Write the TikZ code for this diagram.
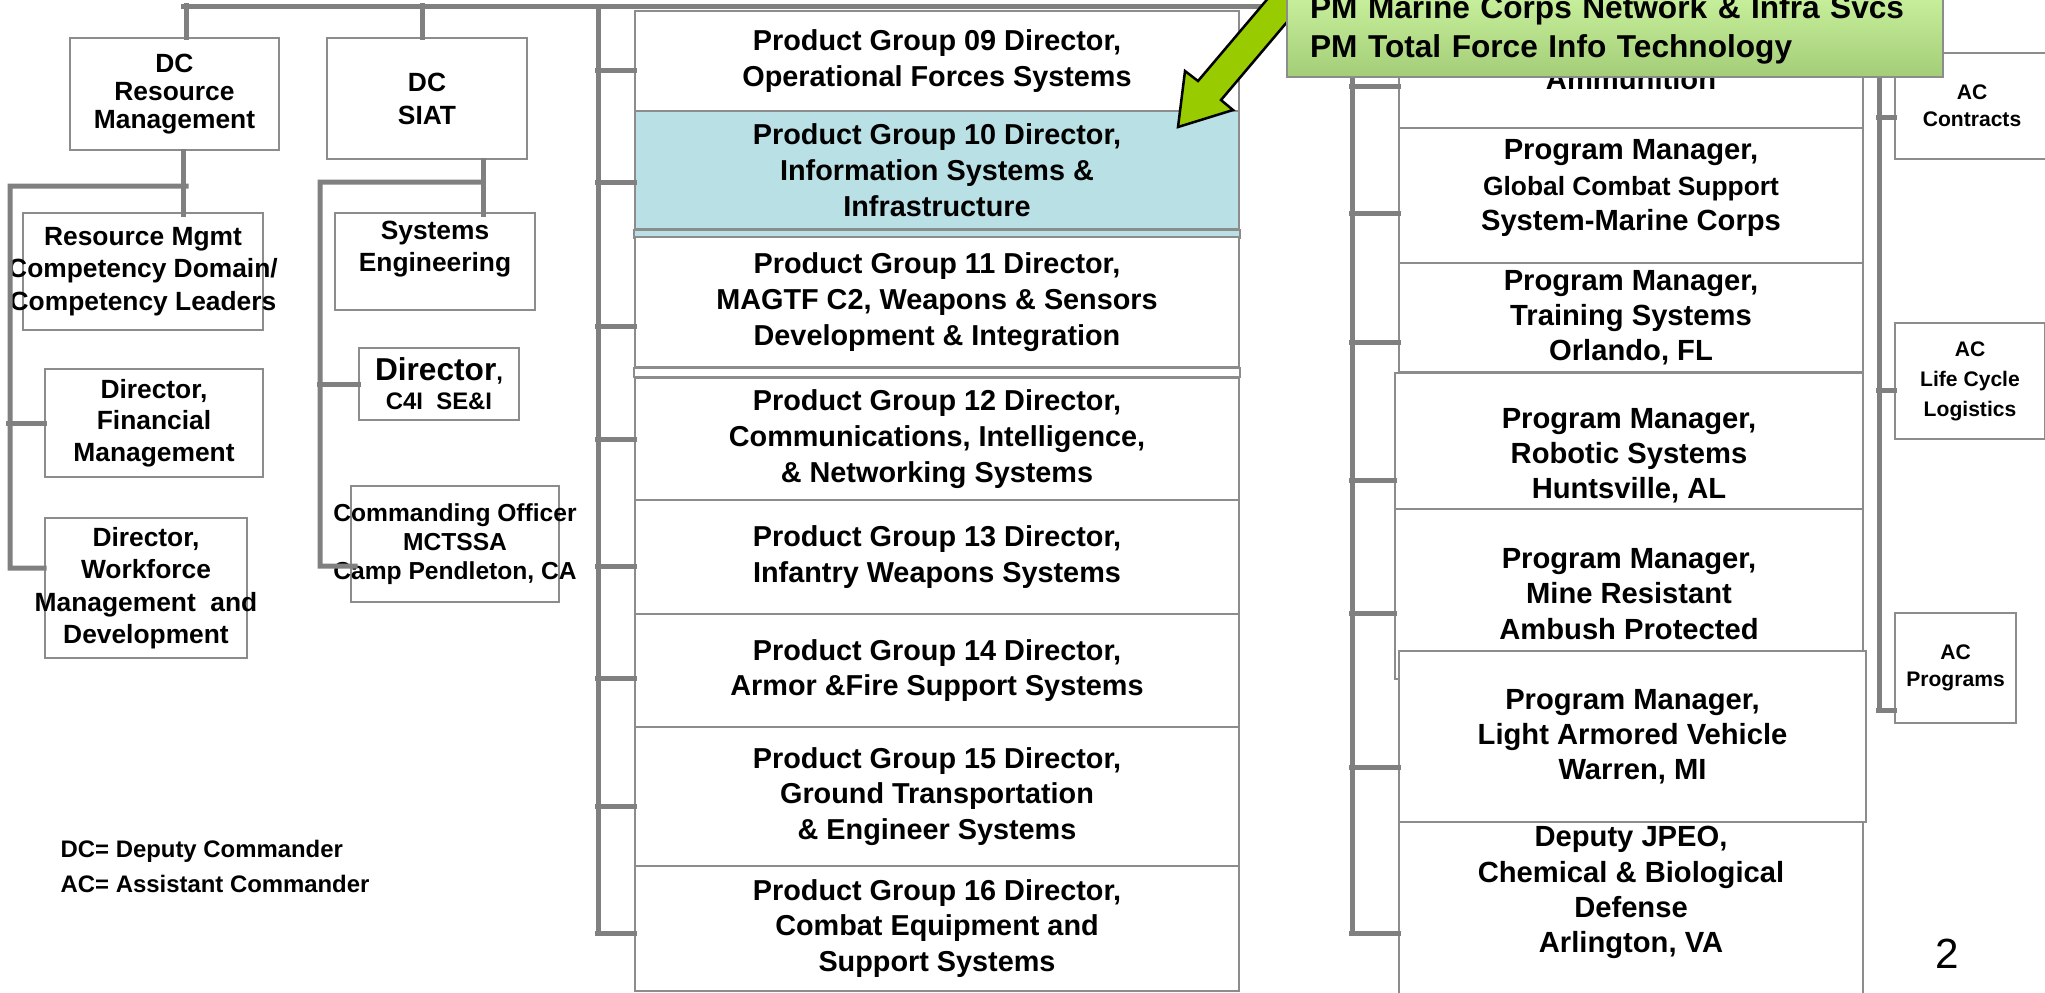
\documentclass[tikz,border=0pt]{standalone}
\usepackage{fontspec}
\setmainfont{Liberation Sans}
\definecolor{linegray}{RGB}{128,128,128}
\definecolor{boxgray}{RGB}{140,140,140}
\definecolor{pgblue}{RGB}{185,224,228}
\definecolor{calltop}{RGB}{206,246,162}
\definecolor{callbot}{RGB}{164,205,120}
\definecolor{arrowgreen}{RGB}{153,204,0}
\begin{document}
\begin{tikzpicture}[x=1mm,y=-1mm,
    conn/.style={draw=linegray,line width=0.5mm,line cap=rect},
    box/.style={draw=boxgray,line width=0.2mm,fill=white,inner sep=0pt,align=center},
    lbox/.style={box,font=\bfseries\fontsize{7.5}{9.2}\selectfont},
    pgbox/.style={box,minimum width=60.4mm,font=\bfseries\fontsize{8.2}{10.2}\selectfont},
    pmbox/.style={box,minimum width=46.4mm,font=\bfseries\fontsize{8.3}{10}\selectfont},
    acbox/.style={box,font=\bfseries\fontsize{6}{7.7}\selectfont},
    ltxt/.style={align=center,inner sep=0pt,font=\bfseries\fontsize{7.5}{9.2}\selectfont},
    pmtxt/.style={align=center,inner sep=0pt,font=\bfseries\fontsize{8.3}{10}\selectfont},
    callout/.style={draw=boxgray,line width=0.2mm,top color=calltop,bottom color=callbot,
      minimum width=65.6mm,minimum height=9.5mm,text width=61mm,inner xsep=2.3mm,inner ysep=0pt,
      align=left,font=\bfseries\fontsize{9}{11.1}\selectfont},
    arrowshape/.style={fill=arrowgreen,draw=black,line width=0.25mm,line join=miter},
    note/.style={anchor=base west,inner sep=0pt,font=\bfseries\fontsize{6.8}{10}\selectfont}]
\useasboundingbox (0,0) rectangle (204.5,99.2);

% deputy commanders and their directors
\node[lbox,minimum width=20.9mm,minimum height=11.2mm,font=\bfseries\fontsize{7.5}{7.9}\selectfont] (dcrm) at (17.45,9.4) {DC\\Resource\\Management};
\node[lbox,minimum width=20mm,minimum height=12.1mm,font=\bfseries\fontsize{7.5}{9.4}\selectfont] (dcsiat) at (42.7,9.85) {DC\\SIAT};
\node[lbox,minimum width=24mm,minimum height=11.7mm] (rmgmt) at (14.3,27.15) {};
\node[ltxt] (rmgmttext) at (rmgmt) {Resource Mgmt\\Competency Domain/\\Competency Leaders};
\node[lbox,minimum width=20mm,minimum height=9.7mm] (syseng) at (43.5,26.15) {};
\node[ltxt,anchor=north,font=\bfseries\fontsize{7.5}{9.1}\selectfont] (sysengtext) at ([yshift=-0.8mm]syseng.north) {Systems\\Engineering};
\node[lbox,minimum width=21.8mm,minimum height=10.8mm,font=\bfseries\fontsize{7.5}{9}\selectfont] (dirfm) at (15.4,42.3) {Director,\\Financial\\Management};
\node[lbox,minimum width=20.2mm,minimum height=14mm] (dirwf) at (14.6,58.8) {};
\node[ltxt] (dirwftext) at (dirwf) {Director,\\Workforce\\Management~~and\\Development};
\node[lbox,minimum width=16mm,minimum height=7.2mm,font=\bfseries\fontsize{6.8}{8.3}\selectfont] (dirc4i) at (43.9,38.4) {{\fontsize{9}{10}\selectfont Director},\\C4I~~SE\&I};
\node[lbox,minimum width=20.8mm,minimum height=11.6mm] (co) at (45.5,54.4) {};
\node[ltxt,font=\bfseries\fontsize{7}{8.3}\selectfont] (cotext) at (co) {Commanding Officer\\MCTSSA\\Camp Pendleton, CA};

% product groups
\node[pgbox,minimum height=10mm] (pg09) at (93.7,6.1) {Product Group 09 Director,\\Operational Forces Systems};
\node[pgbox,minimum height=11.8mm,fill=pgblue] (pg10) at (93.7,17.0) {Product Group 10 Director,\\Information Systems \&\\Infrastructure};
\draw[box,fill=pgblue] (pg10.south west) rectangle ([yshift=-0.8mm]pg10.south east);
\node[pgbox,minimum height=13mm] (pg11) at (93.7,30.2) {Product Group 11 Director,\\MAGTF C2, Weapons \& Sensors\\Development \& Integration};
\node[pgbox,minimum height=12.2mm] (pg12) at (93.7,43.9) {Product Group 12 Director,\\Communications, Intelligence,\\\& Networking Systems};
\draw[box] (pg11.south west) rectangle (pg12.north east);
\node[pgbox,minimum height=11.4mm] (pg13) at (93.7,55.7) {Product Group 13 Director,\\Infantry Weapons Systems};
\node[pgbox,minimum height=11.3mm] (pg14) at (93.7,67.05) {Product Group 14 Director,\\Armor \&Fire Support Systems};
\node[pgbox,minimum height=13.9mm] (pg15) at (93.7,79.65) {Product Group 15 Director,\\Ground Transportation\\\& Engineer Systems};
\node[pgbox,minimum height=12.5mm] (pg16) at (93.7,92.85) {Product Group 16 Director,\\Combat Equipment and\\Support Systems};

% program managers
\node[pmbox,minimum height=9.8mm] (pmammo) at (163.1,7.9) {Ammunition};
\node[pmbox,minimum height=13.5mm] (pmgcss) at (163.1,19.55) {};
\node[pmtxt,yshift=0.75mm] (pmgcsstext) at (pmgcss) {Program Manager,\\{\fontsize{7.5}{10}\selectfont Global Combat Support}\\System-Marine Corps};
\node[pmbox,minimum height=10.9mm] (pmtrain) at (163.1,31.75) {Program Manager,\\Training Systems\\Orlando, FL};
\node[pmbox,minimum width=46.8mm,minimum height=13.6mm] (pmrob) at (162.9,44.1) {};
\node[pmtxt,yshift=-1.45mm] (pmrobtext) at (pmrob) {Program Manager,\\Robotic Systems\\Huntsville, AL};
\node[pmbox,minimum width=46.8mm,minimum height=17mm] (pmmrap) at (162.9,59.4) {Program Manager,\\Mine Resistant\\Ambush Protected};
\node[pmbox,minimum width=46.7mm,minimum height=17.1mm] (pmlav) at (163.25,73.65) {Program Manager,\\Light Armored Vehicle\\Warren, MI};
\node[pmbox,minimum height=18.8mm] (pmjpeo) at (163.1,91.6) {};
\node[pmtxt,yshift=2.35mm] (pmjpeotext) at (pmjpeo) {Deputy JPEO,\\Chemical \& Biological\\Defense\\Arlington, VA};

% assistant commanders
\node[acbox,minimum width=15.4mm,minimum height=10.6mm] (acctr) at (197.2,10.6) {AC\\Contracts};
\node[acbox,minimum width=15mm,minimum height=11.6mm,font=\bfseries\fontsize{6}{8.5}\selectfont] (aclcl) at (197.0,38.1) {AC\\Life Cycle\\Logistics};
\node[acbox,minimum width=12.1mm,minimum height=11mm] (acprog) at (195.55,66.8) {AC\\Programs};

% top line and drops
\coordinate (topL) at (18.3,0.6);
\coordinate (topR) at (187.9,0.6);
\draw[conn] (topL) -- (topR);
\draw[conn] ([xshift=1.15mm]dcrm.north) -- ++(0,-3.2);
\draw[conn] ([xshift=-0.5mm]dcsiat.north) -- ++(0,-3.2);

% resource management branch
\draw[conn] ([xshift=0.85mm]dcrm.south) -- ++(0,6.3);
\coordinate (rmbus) at (18.6,18.6);
\draw[conn] (rmbus) -| (1.0,56.8) -- ([yshift=2mm]dirwf.west);
\draw[conn] (dirfm.west) -- ++(-3.5,0);

% SIAT branch
\draw[conn] ([xshift=5.6mm]dcsiat.south) -- ++(0,5.4);
\coordinate (siatbus) at (48.3,18.2);
\draw[conn] (siatbus) -| (32.0,56.6) -- ([xshift=0.5mm,yshift=-2.2mm]co.west);
\draw[conn] (dirc4i.west) -- ++(-3.9,0);

% product group bracket
\coordinate (pgbus) at (59.8,0.6);
\draw[conn] (pgbus) -- ++(0,92.7);
\foreach \n/\d in {pg09/0.9,pg10/1.2,pg11/2.4,pg12/0,pg13/0.9,pg14/0.75,pg15/0.95,pg16/0.45}
  \draw[conn] ([yshift=-\d mm]\n.west) -- ++(-3.7,0);

% program manager bracket
\coordinate (pmbus) at (135.2,0.6);
\draw[conn] (pmbus) -- ++(0,92.7);
\foreach \n/\d/\l in {pmammo/0.7/4.7,pmgcss/1.75/4.7,pmtrain/2.45/4.7,pmrob/3.9/4.3,pmmrap/1.9/4.3,pmlav/3.05/4.7,pmjpeo/1.7/4.7}
  \draw[conn] ([yshift=-\d mm]\n.west) -- ++(-\l,0);

% assistant commander bracket
\coordinate (acbus) at (187.9,0.6);
\draw[conn] (acbus) -- ++(0,70.4);
\foreach \n/\d in {acctr/1.1,aclcl/0.9,acprog/4.2}
  \draw[conn] ([yshift=-\d mm]\n.west) -- ++(-1.6,0);

% pointer and callout
\draw[arrowshape] (117.8,12.7) -- (123.3,11.0) -- (122.1,10.0) -- (133.1,-3) -- (129.2,-3) -- (119.8,8.1) -- (118.5,7.1) -- cycle;
\node[callout] (pmnote) at (161.5,2.95) {PM Marine Corps Network \& Infra Svcs\\PM Total Force Info Technology};

% legend
\node[note] (dcnote) at (6.0,85.7) {DC= Deputy Commander};
\node[note] (acnote) at (6.0,89.2) {AC= Assistant Commander};
\node[anchor=base,inner sep=0pt,font=\fontsize{12}{14}\selectfont] (pagenum) at (194.7,96.8) {2};
\end{tikzpicture}
\end{document}
